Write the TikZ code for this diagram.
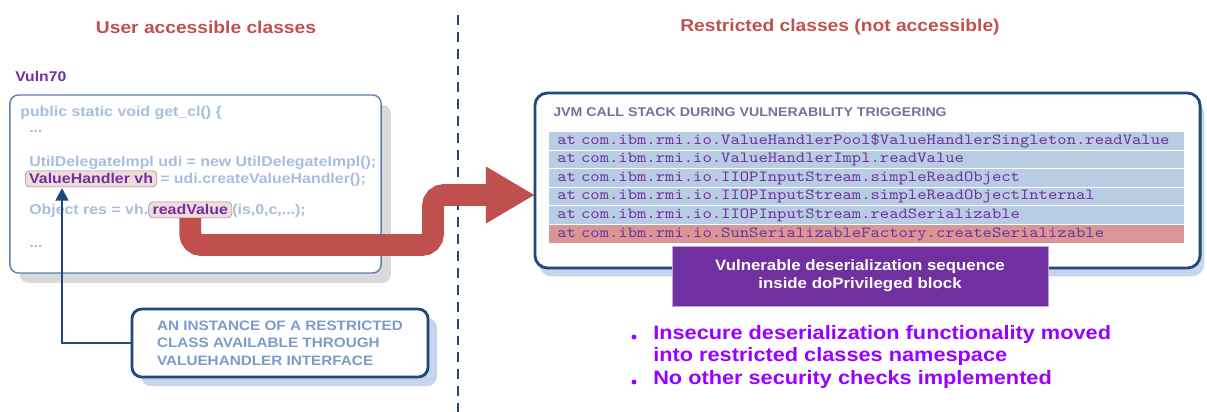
\documentclass[tikz,border=0pt]{standalone}
\usepackage{fontspec}
\setmainfont{Liberation Sans}[FakeStretch=1.12]
\newfontfamily\stackfont{lmmono10-regular.otf}[FakeStretch=1.15]
\usetikzlibrary{positioning,arrows.meta,shadows}

\definecolor{headred}{HTML}{C0504D}
\definecolor{vulnpurple}{HTML}{7030A0}
\definecolor{codeblue}{HTML}{A7BEDD}
\definecolor{boxblue}{HTML}{5B7DB1}
\definecolor{darkblue}{HTML}{1F497D}
\definecolor{shadowgray}{HTML}{D9D9D9}
\definecolor{shadowblue}{HTML}{C6D5E9}
\definecolor{hlpink}{HTML}{F2DCDB}
\definecolor{hlgray}{HTML}{8C8C8C}
\definecolor{notetext}{HTML}{7B9BCB}
\definecolor{stackhead}{HTML}{7C6C9C}
\definecolor{rowblue}{HTML}{B8CCE4}
\definecolor{rowred}{HTML}{D99694}
\definecolor{bulletpurple}{HTML}{9900FF}

\begin{document}
\begin{tikzpicture}[x=0.025cm,y=-0.025cm,
	heading/.style={text=headred,font=\fontsize{12.2}{14}\selectfont\bfseries},
	code/.style={anchor=base west,inner sep=0pt,text=codeblue,font=\fontsize{10.1}{12}\selectfont\bfseries},
	hl/.style={anchor=base west,draw=hlgray,fill=hlpink,rounded corners=3pt,inner xsep=2.8pt,inner ysep=2pt,text=vulnpurple,font=\fontsize{10.1}{12}\selectfont\bfseries},
	stackrow/.style={anchor=west,fill=rowblue,minimum height=0.425cm,inner xsep=5.7pt,inner ysep=0pt,text width=440pt,align=left,text=vulnpurple,font=\stackfont\fontsize{11}{12}\selectfont},
	bigarrow/.style={draw=headred,line width=15.6pt,rounded corners=8pt,-{Triangle[length=35pt,width=38pt]}},
	bluearrow/.style={draw=darkblue,line width=2pt,-{Triangle[length=9pt,width=9pt]}},
	divider/.style={draw=darkblue,line width=2pt,dash pattern=on 7pt off 5pt},
	dot/.style={circle,fill=bulletpurple,inner sep=0pt,minimum size=3.5pt}]

	\useasboundingbox (0,0) rectangle (1207,412);

	\node (lefthead) [heading] at (206,27) {User accessible classes};
	\node (righthead) [heading] at (840,27) {Restricted classes (not accessible)};
	\draw[divider] (458,15) -- (458,412);

	\node (vuln) [anchor=base west,inner sep=0pt,text=vulnpurple,font=\fontsize{10}{12}\selectfont\bfseries] at (15,82) {Vuln70};

	\node (codebox) [draw=boxblue,line width=1pt,fill=white,rounded corners=6pt,minimum width=9.275cm,minimum height=4.45cm,
		drop shadow={fill=shadowgray,opacity=1,shadow xshift=7pt,shadow yshift=-7pt}] at (195.5,184) {};
	\node (l1) [code] at (20,117) {public static void get\_cl() \{};
	\node (l2) [code] at (29,133) {...};
	\node (l3) [code] at (29,167) {UtilDelegateImpl udi = new UtilDelegateImpl();};
	\node (vh) [hl] at (25,184) {ValueHandler vh};
	\node (l4) [code,inner xsep=2pt] at (vh.base east) {= udi.createValueHandler();};
	\node (l5) [code] at (29,215) {Object res = vh.};
	\node (rv) [hl] at (l5.base east) {readValue};
	\node (l6) [code] at (rv.base east) {(is,0,c,...);};
	\node (l7) [code] at (29,247) {...};

	\node (note) [draw=darkblue,line width=2pt,fill=white,rounded corners=7pt,minimum width=7.4cm,minimum height=1.7cm,align=left,
		text=notetext,font=\fontsize{9.7}{12.4}\selectfont\bfseries,
		drop shadow={fill=shadowblue,opacity=1,shadow xshift=6.4pt,shadow yshift=-6.4pt}] at (280,343)
		{AN INSTANCE OF A RESTRICTED\\CLASS AVAILABLE THROUGH\\VALUEHANDLER INTERFACE};

	\node (jvm) [draw=darkblue,line width=2pt,fill=white,rounded corners=9pt,minimum width=16.625cm,minimum height=4.375cm,
		drop shadow={fill=shadowblue,opacity=1,shadow xshift=3pt,shadow yshift=-6pt}] at (867.5,180.5) {};
	\node (jvmhead) [anchor=base west,inner sep=0pt,text=stackhead,font=\fontsize{9}{11}\selectfont\bfseries] at (553,117)
		{JVM CALL STACK DURING VULNERABILITY TRIGGERING};
	\foreach \y/\call [count=\i] in {141/ValueHandlerPool\$ValueHandlerSingleton.readValue,
			159.5/ValueHandlerImpl.readValue,
			178/IIOPInputStream.simpleReadObject,
			196.5/IIOPInputStream.simpleReadObjectInternal,
			215/IIOPInputStream.readSerializable}
		\node (at\i) [stackrow] at (549,\y) {at com.ibm.rmi.io.\call};
	\node (at6) [stackrow,fill=rowred] at (549,234) {at com.ibm.rmi.io.SunSerializableFactory.createSerializable};

	\node (priv) [fill=vulnpurple,draw=vulnpurple!45,minimum width=9.4cm,minimum height=1.5cm,align=center,
		text=white,font=\fontsize{10.7}{12.8}\selectfont\bfseries] at (860,276)
		{Vulnerable deserialization sequence\\inside doPrivileged block};

	\node (points) [anchor=north west,inner sep=0pt,align=left,text=bulletpurple,font=\fontsize{13.8}{16}\selectfont\bfseries] at (653,325)
		{Insecure deserialization functionality moved\\into restricted classes namespace\\No other security checks implemented};
	\node (bul1) [dot] at (634,337) {};
	\node (bul2) [dot] at (634,382) {};

	\coordinate (turn) at (433,245);
	\coordinate (aim) at (535,195);
	\draw[bigarrow] (rv.south) |- (turn) |- (aim);

	\coordinate (vhin) at (62,188);
	\draw[bluearrow] (note.west) -| (vhin);

\end{tikzpicture}
\end{document}
